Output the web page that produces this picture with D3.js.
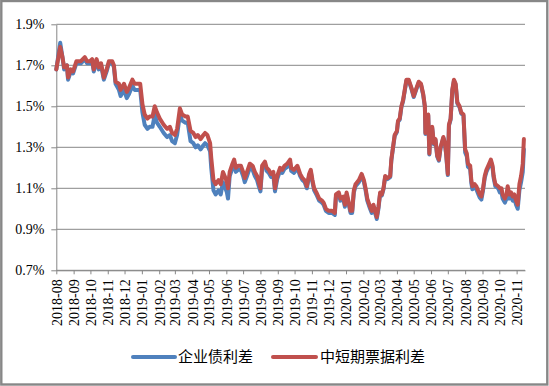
<!DOCTYPE html>
<html><head><meta charset="utf-8">
<script src="https://cdn.jsdelivr.net/npm/d3@7"></script>
<style>
html,body{margin:0;padding:0;background:#fff;}
svg{display:block;}
</style></head>
<body><div id="chart"></div>
<script>
const dates = ["2018-08-01","2018-08-08","2018-08-12","2018-08-15","2018-08-20","2018-08-22","2018-08-27","2018-08-31",
"2018-09-06","2018-09-14","2018-09-21","2018-09-25","2018-09-30","2018-10-04","2018-10-07","2018-10-12","2018-10-16","2018-10-20","2018-10-25","2018-10-30",
"2018-11-03","2018-11-09","2018-11-12","2018-11-15","2018-11-21","2018-11-24","2018-11-30","2018-12-05","2018-12-09","2018-12-15","2018-12-19","2018-12-24","2018-12-29",
"2019-01-02","2019-01-06","2019-01-11","2019-01-15","2019-01-20","2019-01-24","2019-01-28","2019-02-02","2019-02-09","2019-02-15","2019-02-20","2019-02-24",
"2019-03-01","2019-03-05","2019-03-10","2019-03-14","2019-03-20","2019-03-24","2019-03-29","2019-04-03","2019-04-07","2019-04-11","2019-04-16","2019-04-21","2019-04-24","2019-04-28",
"2019-05-03","2019-05-05","2019-05-09","2019-05-13","2019-05-18","2019-05-22","2019-05-26","2019-05-29","2019-06-02","2019-06-04","2019-06-07","2019-06-12","2019-06-15","2019-06-18","2019-06-22","2019-06-27",
"2019-07-01","2019-07-04","2019-07-08","2019-07-13","2019-07-18","2019-07-22","2019-07-26","2019-07-29","2019-08-01","2019-08-04","2019-08-09","2019-08-12","2019-08-16","2019-08-20","2019-08-24","2019-08-27","2019-08-31",
"2019-09-05","2019-09-09","2019-09-13","2019-09-18","2019-09-23","2019-09-25","2019-09-30","2019-10-06","2019-10-11","2019-10-15","2019-10-19","2019-10-23","2019-10-27","2019-10-30",
"2019-11-02","2019-11-05","2019-11-09","2019-11-14","2019-11-19","2019-11-22","2019-11-26","2019-12-01","2019-12-07","2019-12-12","2019-12-14","2019-12-19","2019-12-22","2019-12-27","2019-12-30",
"2020-01-02","2020-01-06","2020-01-09","2020-01-12","2020-01-15","2020-01-18","2020-01-24","2020-01-29","2020-02-02","2020-02-05","2020-02-08","2020-02-13","2020-02-16","2020-02-19","2020-02-22","2020-02-25","2020-02-28",
"2020-03-02","2020-03-05","2020-03-08","2020-03-11","2020-03-15","2020-03-20","2020-03-22","2020-03-25","2020-03-28","2020-04-01","2020-04-03","2020-04-06","2020-04-09","2020-04-12","2020-04-15","2020-04-18","2020-04-22","2020-04-27",
"2020-05-01","2020-05-06","2020-05-10","2020-05-14","2020-05-18","2020-05-21","2020-05-22","2020-05-25","2020-05-27","2020-05-29","2020-05-31","2020-06-03","2020-06-06","2020-06-09","2020-06-12","2020-06-15","2020-06-18","2020-06-23","2020-06-26","2020-06-28",
"2020-07-01","2020-07-03","2020-07-06","2020-07-09","2020-07-12","2020-07-15","2020-07-18","2020-07-22","2020-07-25","2020-07-29","2020-08-01","2020-08-04","2020-08-06","2020-08-10","2020-08-12","2020-08-14","2020-08-18","2020-08-21","2020-08-24","2020-08-27","2020-08-30",
"2020-09-02","2020-09-05","2020-09-08","2020-09-13","2020-09-16","2020-09-19","2020-09-21","2020-09-24","2020-09-29","2020-10-02","2020-10-05","2020-10-07","2020-10-11","2020-10-14","2020-10-16","2020-10-19","2020-10-22","2020-10-25","2020-10-28","2020-10-31",
"2020-11-03","2020-11-06","2020-11-09","2020-11-12","2020-11-14"];

// 中短期票据利差 (%)
const mtnSpread = [1.68,1.79,1.74,1.69,1.70,1.64,1.68,1.67,
1.72,1.72,1.74,1.72,1.72,1.73,1.68,1.73,1.69,1.71,1.64,1.68,
1.72,1.72,1.70,1.62,1.61,1.58,1.61,1.57,1.59,1.63,1.61,1.61,1.61,
1.51,1.46,1.44,1.45,1.45,1.50,1.47,1.44,1.41,1.39,1.40,1.37,
1.36,1.39,1.49,1.46,1.45,1.45,1.38,1.37,1.35,1.36,1.34,1.36,1.37,1.36,
1.32,1.25,1.14,1.12,1.14,1.12,1.18,1.16,1.13,1.10,1.18,1.22,1.24,1.20,1.21,1.21,
1.18,1.15,1.18,1.22,1.21,1.18,1.16,1.13,1.10,1.21,1.23,1.20,1.19,1.17,1.18,1.10,1.16,
1.20,1.19,1.21,1.22,1.24,1.20,1.19,1.21,1.17,1.15,1.14,1.11,1.17,1.19,
1.14,1.10,1.08,1.05,1.04,1.03,1.00,0.99,0.99,0.98,1.07,1.08,1.05,1.06,1.02,
1.08,1.03,0.99,0.99,1.09,1.12,1.14,1.17,1.14,1.10,1.05,1.01,0.99,1.02,0.99,0.96,1.01,
1.08,1.07,1.10,1.16,1.15,1.16,1.24,1.30,1.36,1.38,1.43,1.44,1.50,1.53,1.58,1.63,1.63,1.59,
1.55,1.59,1.62,1.61,1.56,1.50,1.37,1.44,1.46,1.27,1.39,1.40,1.32,1.34,1.26,1.24,1.30,1.35,1.32,1.27,
1.17,1.41,1.44,1.58,1.63,1.61,1.52,1.50,1.47,1.46,1.29,1.27,1.22,1.21,1.14,1.11,1.12,1.11,1.09,1.07,1.06,
1.10,1.16,1.19,1.22,1.24,1.21,1.16,1.12,1.11,1.10,1.10,1.07,1.05,1.07,1.11,1.07,1.08,1.06,1.07,1.04,
1.02,1.12,1.16,1.22,1.34];

// 企业债利差 (%)
const corpSpread = [1.68,1.81,1.74,1.68,1.70,1.63,1.67,1.66,
1.71,1.71,1.73,1.71,1.71,1.72,1.67,1.72,1.68,1.70,1.63,1.67,
1.71,1.71,1.69,1.61,1.58,1.55,1.58,1.54,1.56,1.60,1.58,1.58,1.58,
1.47,1.41,1.39,1.40,1.40,1.46,1.42,1.40,1.37,1.35,1.36,1.33,
1.32,1.36,1.46,1.43,1.42,1.42,1.33,1.32,1.30,1.31,1.29,1.31,1.32,1.31,
1.28,1.20,1.09,1.07,1.09,1.07,1.13,1.11,1.08,1.05,1.16,1.20,1.22,1.18,1.19,1.19,
1.16,1.13,1.16,1.20,1.19,1.16,1.14,1.11,1.085,1.195,1.215,1.185,1.175,1.155,1.165,1.085,1.145,
1.185,1.175,1.195,1.205,1.225,1.185,1.175,1.20,1.16,1.14,1.13,1.10,1.16,1.18,
1.13,1.09,1.07,1.04,1.03,1.02,0.99,0.98,0.98,0.97,1.06,1.07,1.04,1.05,1.01,
1.07,1.02,0.98,0.98,1.08,1.11,1.13,1.16,1.13,1.09,1.04,1.00,0.98,1.01,0.98,0.95,1.00,
1.075,1.065,1.095,1.155,1.145,1.155,1.235,1.295,1.355,1.375,1.425,1.435,1.495,1.525,1.575,1.625,1.625,1.585,
1.545,1.585,1.615,1.605,1.555,1.495,1.365,1.435,1.455,1.265,1.385,1.395,1.315,1.335,1.255,1.235,1.295,1.345,1.315,1.265,
1.165,1.405,1.435,1.575,1.625,1.605,1.515,1.495,1.465,1.455,1.275,1.255,1.205,1.195,1.125,1.095,1.105,1.095,1.075,1.055,1.045,
1.09,1.15,1.18,1.21,1.23,1.20,1.15,1.11,1.10,1.08,1.08,1.05,1.03,1.05,1.09,1.05,1.06,1.04,1.05,1.02,
1.00,1.09,1.13,1.18,1.29];

const monthTicks = ["2018-08","2018-09","2018-10","2018-11","2018-12","2019-01","2019-02","2019-03","2019-04","2019-05","2019-06","2019-07","2019-08","2019-09","2019-10","2019-11","2019-12","2020-01","2020-02","2020-03","2020-04","2020-05","2020-06","2020-07","2020-08","2020-09","2020-10","2020-11"];
const yTicks = [0.7,0.9,1.1,1.3,1.5,1.7,1.9];
const seriesNames = ["企业债利差","中短期票据利差"];
const seriesColors = ["#4F81BD","#C0504D"];

const W = 549, H = 386;
const parseDay = d3.timeParse("%Y-%m-%d");
const parseMonth = d3.timeParse("%Y-%m");
const x = d3.scaleTime().domain([parseDay("2018-08-01"), parseDay("2020-11-16")]).range([56.3, 525]);
const y = d3.scaleLinear().domain([0.7, 1.9]).range([270.3, 24.3]);

const svg = d3.select("#chart").append("svg").attr("width", W).attr("height", H);
svg.append("rect").attr("width", W).attr("height", H).attr("fill", "#fff");
svg.append("rect").attr("x", 1.3).attr("y", 1).attr("width", 546).attr("height", 383.5)
  .attr("fill", "none").attr("stroke", "#878787").attr("stroke-width", 2.4);

const grid = svg.append("g");
grid.selectAll("line").data(yTicks).join("line")
  .attr("x1", 56.3).attr("x2", 525).attr("y1", d => y(d)).attr("y2", d => y(d))
  .attr("stroke", "#878787").attr("stroke-width", 1);

const yAxis = svg.append("g").attr("transform", "translate(56.3,0)")
  .call(d3.axisLeft(y).tickValues(yTicks).tickFormat(d => d.toFixed(1) + "%").tickSizeInner(5).tickSizeOuter(0).tickPadding(7));
yAxis.selectAll("path,line").attr("stroke", "#878787");
yAxis.selectAll("text").attr("font-family", "'Liberation Serif','Times New Roman',serif").attr("font-size", 14).attr("fill", "#000");

const xAxis = svg.append("g").attr("transform", "translate(0,270.3)")
  .call(d3.axisBottom(x).tickValues(monthTicks.map(parseMonth)).tickFormat(d3.timeFormat("%Y-%m")).tickSizeInner(4).tickSizeOuter(0));
xAxis.selectAll("path,line").attr("stroke", "#878787");
xAxis.selectAll("text")
  .attr("font-family", "'Liberation Serif','Times New Roman',serif").attr("font-size", 14).attr("fill", "#000")
  .attr("transform", "rotate(-90)").attr("text-anchor", "end")
  .attr("x", -9).attr("y", 0).attr("dy", "0.35em");

const parsed = dates.map(parseDay);
const line = d3.line().x((d, i) => x(parsed[i])).y(d => y(d));
[corpSpread, mtnSpread].forEach((s, k) => {
  svg.append("path").datum(s).attr("d", line).attr("fill", "none")
    .attr("stroke", seriesColors[k]).attr("stroke-width", 4)
    .attr("stroke-linejoin", "round").attr("stroke-linecap", "round");
});

const legendPos = [{x1: 133, x2: 175, tx: 178}, {x1: 273, x2: 316, tx: 320}];
const lg = svg.append("g");
seriesNames.forEach((n, k) => {
  lg.append("line").attr("x1", legendPos[k].x1).attr("x2", legendPos[k].x2).attr("y1", 357).attr("y2", 357)
    .attr("stroke", seriesColors[k]).attr("stroke-width", 4).attr("stroke-linecap", "round");
  lg.append("text").attr("x", legendPos[k].tx).attr("y", 357).attr("dy", "0.36em")
    .attr("font-family", "'Noto Sans CJK SC',sans-serif").attr("font-size", 15).attr("fill", "#000").text(n);
});
</script></body></html>
